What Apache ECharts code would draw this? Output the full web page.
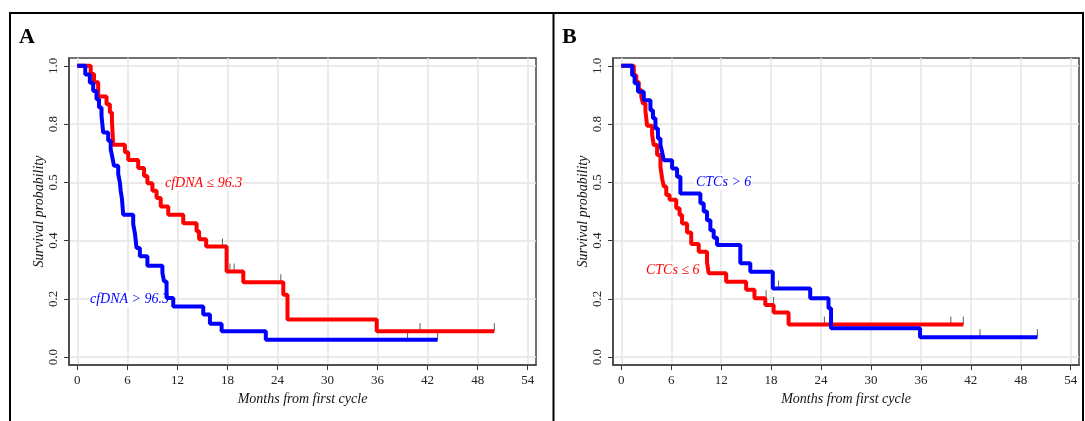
<!DOCTYPE html>
<html><head><meta charset="utf-8">
<script src="https://cdn.jsdelivr.net/npm/echarts@6/dist/echarts.min.js"></script>
<style>html,body{margin:0;padding:0;background:#fff}#c{width:1085px;height:421px}</style>
</head><body><div id="c"></div>
<script>
// ---- tick labels ----
const xTicks = [0, 6, 12, 18, 24, 30, 36, 42, 48, 54];
const yTicks = [0, 0.2, 0.4, 0.6, 0.8, 1.0];
const yTickLabels = ['0.0', '0.2', '0.4', '0.5', '0.8', '1.0'];

// ---- Panel A: cfDNA <= 96.3 (red) ----
const aLowT = [0, 1.6, 2.0, 2.5, 3.5, 3.9, 4.15, 4.3, 5.7, 6.1, 7.3, 8.0, 8.4, 9.0, 9.5, 10.0, 10.9, 12.7, 14.3, 14.6, 15.45, 17.9, 19.9, 24.7, 25.2, 35.9, 50.0];
const aLowS = [1.0, 0.972, 0.944, 0.895, 0.868, 0.840, 0.809, 0.729, 0.703, 0.677, 0.649, 0.622, 0.597, 0.571, 0.546, 0.517, 0.489, 0.460, 0.432, 0.405, 0.380, 0.294, 0.257, 0.214, 0.129, 0.089, 0.089];
const aLowCensT = [17.4, 18.3, 18.8, 24.4, 41.1, 50.0];
const aLowCensS = [0.380, 0.294, 0.294, 0.257, 0.089, 0.089];

// ---- Panel A: cfDNA > 96.3 (blue) ----
const aHighT = [0, 0.95, 1.5, 1.9, 2.3, 2.6, 2.9, 3.0, 3.1, 3.7, 4.0, 4.2, 4.4, 4.9, 5.1, 5.2, 5.35, 5.5, 6.7, 6.9, 7.1, 7.5, 8.4, 10.2, 10.4, 10.7, 11.5, 15.1, 15.9, 17.3, 22.6, 43.2];
const aHighS = [1.0, 0.970, 0.942, 0.914, 0.885, 0.857, 0.828, 0.800, 0.771, 0.743, 0.714, 0.686, 0.657, 0.629, 0.600, 0.571, 0.543, 0.489, 0.457, 0.426, 0.375, 0.346, 0.314, 0.289, 0.260, 0.203, 0.174, 0.146, 0.115, 0.089, 0.060, 0.060];
const aHighCensT = [39.6, 43.2];
const aHighCensS = [0.060, 0.060];

// ---- Panel B: CTCs > 6 (blue) ----
const bHighT = [0, 1.3, 1.6, 2.0, 2.7, 3.5, 3.8, 4.1, 4.4, 4.7, 4.9, 5.1, 6.1, 6.7, 7.1, 9.5, 9.9, 10.3, 10.7, 11.1, 11.5, 14.3, 15.5, 18.2, 22.7, 24.9, 25.2, 35.9, 50.0];
const bHighS = [1.0, 0.968, 0.940, 0.911, 0.882, 0.848, 0.820, 0.785, 0.751, 0.728, 0.705, 0.676, 0.648, 0.619, 0.562, 0.528, 0.500, 0.470, 0.436, 0.410, 0.385, 0.322, 0.293, 0.236, 0.202, 0.168, 0.099, 0.068, 0.068];
const bHighCensT = [18.9, 43.1, 50.0];
const bHighCensS = [0.236, 0.068, 0.068];

// ---- Panel B: CTCs <= 6 (red) ----
const bLowT = [0, 1.5, 1.8, 2.1, 2.4, 2.6, 2.9, 3.0, 3.1, 3.7, 3.9, 4.3, 4.7, 4.9, 5.1, 5.4, 5.8, 6.6, 7.0, 7.3, 7.9, 8.4, 9.3, 10.3, 10.5, 12.6, 15.0, 16.0, 17.3, 18.3, 20.1, 41.1];
const bLowS = [1.0, 0.968, 0.945, 0.917, 0.894, 0.871, 0.843, 0.820, 0.794, 0.763, 0.728, 0.694, 0.654, 0.614, 0.586, 0.557, 0.540, 0.511, 0.488, 0.459, 0.428, 0.388, 0.362, 0.325, 0.288, 0.259, 0.231, 0.202, 0.179, 0.153, 0.112, 0.112];
const bLowCensT = [17.4, 18.3, 24.4, 39.6, 41.1];
const bLowCensS = [0.202, 0.179, 0.112, 0.112, 0.112];

const RED = '#ff0000', BLUE = '#0000ff';
const FONT = 'Liberation Serif';
const pair = (t, s) => t.map((v, i) => [v, s[i]]);

function xAx(gi) {
  return {
    type: 'value', gridIndex: gi, min: -1, max: 55,
    name: 'Months from first cycle', nameLocation: 'middle', nameGap: 24,
    nameTextStyle: { fontFamily: FONT, fontStyle: 'italic', fontSize: 14, color: '#111' },
    axisLine: { show: true, onZero: false, lineStyle: { color: '#444', width: 1.5 } },
    axisTick: { show: true, length: 5, customValues: xTicks, lineStyle: { color: '#333', width: 1 } },
    axisLabel: { customValues: xTicks, margin: 9, fontFamily: FONT, fontSize: 13, color: '#222' },
    splitLine: { show: true, lineStyle: { color: '#e3e3e3', width: 1.5 } }
  };
}
function yAx(gi) {
  return {
    type: 'value', gridIndex: gi, min: -0.027, max: 1.027,
    name: 'Survival probability', nameLocation: 'middle', nameGap: 22,
    nameTextStyle: { fontFamily: FONT, fontStyle: 'italic', fontSize: 14, color: '#111' },
    axisLine: { show: true, onZero: false, lineStyle: { color: '#444', width: 1.5 } },
    axisTick: { show: true, length: 5, customValues: yTicks, lineStyle: { color: '#333', width: 1 } },
    axisLabel: {
      customValues: yTicks, rotate: 90, margin: 9, fontFamily: FONT, fontSize: 13, color: '#222',
      formatter: v => { const i = yTicks.findIndex(t => Math.abs(t - v) < 1e-6); return i >= 0 ? yTickLabels[i] : ''; }
    },
    splitLine: { show: true, lineStyle: { color: '#e3e3e3', width: 1.5 } }
  };
}
function curve(t, s, color, gi) {
  return { type: 'line', xAxisIndex: gi, yAxisIndex: gi, step: 'end', symbol: 'none', z: 3,
    lineStyle: { color: color, width: 4 }, itemStyle: { color: color }, data: pair(t, s), silent: true };
}
function cens(t, s, gi) {
  return { type: 'scatter', xAxisIndex: gi, yAxisIndex: gi, symbol: 'rect', symbolSize: [1, 8], symbolOffset: [0, -4], z: 2,
    itemStyle: { color: '#333' }, data: pair(t, s), silent: true };
}
function txt(x, y, s, color) {
  return { type: 'text', left: x, top: y, z: 1, style: { text: s, fill: color, font: 'italic 14px "Liberation Serif"', backgroundColor: '#fff', padding: [1, 1] } };
}

const chart = echarts.init(document.getElementById('c'), null, { renderer: 'canvas' });
chart.setOption({
  animation: false,
  backgroundColor: '#fff',
  grid: [
    { left: 69, top: 58, width: 467, height: 307, show: true, borderColor: '#444', borderWidth: 1.5, backgroundColor: 'transparent' },
    { left: 613, top: 58, width: 466, height: 307, show: true, borderColor: '#444', borderWidth: 1.5, backgroundColor: 'transparent' }
  ],
  xAxis: [xAx(0), xAx(1)],
  yAxis: [yAx(0), yAx(1)],
  series: [
    cens(aLowCensT, aLowCensS, 0), cens(aHighCensT, aHighCensS, 0),
    curve(aLowT, aLowS, RED, 0), curve(aHighT, aHighS, BLUE, 0),
    cens(bHighCensT, bHighCensS, 1), cens(bLowCensT, bLowCensS, 1),
    curve(bLowT, bLowS, RED, 1), curve(bHighT, bHighS, BLUE, 1)
  ],
  graphic: [
    { type: 'rect', z: 10, shape: { x: 10, y: 13, width: 1073, height: 430 }, style: { fill: 'none', stroke: '#000', lineWidth: 2 } },
    { type: 'line', z: 10, shape: { x1: 553.5, y1: 13, x2: 553.5, y2: 430 }, style: { stroke: '#000', lineWidth: 2 } },
    { type: 'text', left: 19, top: 26, style: { text: 'A', fill: '#000', font: 'bold 22px "Liberation Serif"' } },
    { type: 'text', left: 562, top: 26, style: { text: 'B', fill: '#000', font: 'bold 22px "Liberation Serif"' } },
    txt(164, 175, 'cfDNA ≤ 96.3', RED),
    txt(89, 291, 'cfDNA > 96.3', BLUE),
    txt(695, 174, 'CTCs > 6', BLUE),
    txt(645, 262, 'CTCs ≤ 6', RED)
  ]
});
</script></body></html>
